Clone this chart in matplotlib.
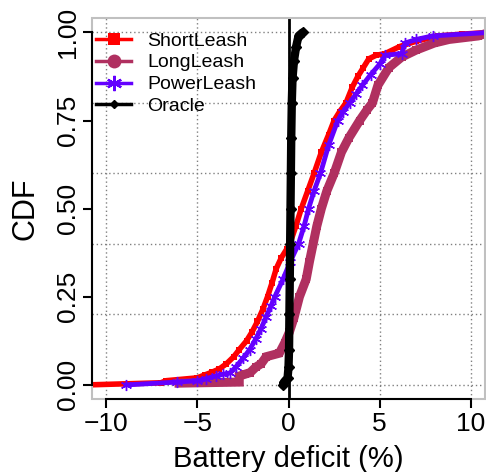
import matplotlib
matplotlib.use("Agg")
import matplotlib.pyplot as plt
from matplotlib.patches import Rectangle

plt.rcParams['font.family'] = ['Liberation Sans', 'DejaVu Sans']

# ---- data ----
short_x = [-11.0, -7.0, -6.7, -5.0, -4.6, -4.2, -3.8, -3.4, -3.0, -2.7, -2.3, -2.0, -1.7, -1.4,
           -1.15, -0.9, -0.67, -0.4, -0.1, 0.07, 0.4, 0.7, 1.05, 1.4, 1.8, 2.2, 2.5, 2.8, 3.15,
           3.5, 3.8, 4.1, 4.4, 4.8, 5.3, 6.1, 7.0, 8.2, 9.5, 11.0]
short_F = [0.0, 0.006, 0.012, 0.02, 0.028, 0.036, 0.045, 0.06, 0.08, 0.10, 0.125, 0.15, 0.18, 0.215,
           0.25, 0.29, 0.33, 0.36, 0.385, 0.40, 0.45, 0.50, 0.55, 0.60, 0.66, 0.71, 0.75, 0.775, 0.80,
           0.845, 0.875, 0.90, 0.925, 0.935, 0.94, 0.96, 0.975, 0.99, 0.995, 1.0]

long_x = [-6.0, -2.7, -2.7, -2.4, -2.1, -1.8, -1.5, -1.22, -0.5, -0.2, 0.05, 0.3, 0.6, 0.97, 1.15,
          1.35, 1.55, 1.8, 2.1, 2.5, 2.9, 3.3, 3.9, 4.3, 4.6, 4.9, 5.5, 6.2, 7.0, 8.0, 8.8, 10.4, 11.0]
long_F = [0.005, 0.008, 0.025, 0.03, 0.035, 0.05, 0.06, 0.08, 0.09, 0.12, 0.15, 0.19, 0.25, 0.30, 0.35,
          0.40, 0.45, 0.50, 0.55, 0.60, 0.66, 0.70, 0.75, 0.78, 0.80, 0.85, 0.90, 0.93, 0.95, 0.97, 0.98,
          0.99, 1.0]

power_x = [-8.9, -6.1, -5.0, -4.5, -4.0, -3.6, -3.2, -2.9, -2.5, -2.13, -1.8, -1.5, -1.22, -0.95,
           -0.75, -0.3, 0.1, 0.55, 0.85, 1.1, 1.4, 1.75, 2.2, 2.7, 3.0, 3.35, 3.7, 4.05, 4.5, 5.0,
           5.3, 6.2, 6.4, 7.0, 7.9, 11.0]
power_F = [0.0, 0.008, 0.012, 0.018, 0.025, 0.03, 0.034, 0.05, 0.075, 0.10, 0.13, 0.16, 0.194, 0.225,
           0.25, 0.30, 0.35, 0.40, 0.45, 0.50, 0.55, 0.60, 0.68, 0.75, 0.775, 0.80, 0.825, 0.85, 0.88,
           0.91, 0.935, 0.94, 0.97, 0.98, 0.99, 1.0]

oracle_x = [-0.3, -0.25, -0.05, 0.0, 0.03, 0.05, 0.07, 0.09, 0.11, 0.13, 0.15, 0.18, 0.22, 0.3, 0.42,
            0.55, 0.77]
oracle_F = [0.0, 0.008, 0.02, 0.05, 0.1, 0.2, 0.3, 0.4, 0.5, 0.6, 0.7, 0.8, 0.87, 0.92, 0.96, 0.99, 1.0]

x_ticks = [-10, -5, 0, 5, 10]
y_ticks = [0, 0.25, 0.5, 0.75, 1.0]
y_ticklabels = ['0.00', '0.25', '0.50', '0.75', '1.00']
grid_x = [-10, -5, 0, 5, 10]
grid_y = [0, 0.2, 0.4, 0.6, 0.8, 1.0]

RED = '#FF0000'
MAROON = '#B03060'
BLUE = '#6400FF'

W, H = 486, 472
fig = plt.figure(figsize=(W / 100, H / 100), dpi=100)
ax = fig.add_axes([92 / W, (H - 399) / H, (485 - 92) / W, (399 - 18.3) / H])
ax.set_xlim(-10.77, 10.77)
ax.set_ylim(-0.04, 1.04)

# grid
for gx in grid_x:
    ax.axvline(gx, color='#808080', lw=1.0, ls=(0, (1, 2)), zorder=0)
for gy in grid_y:
    ax.axhline(gy, color='#808080', lw=1.0, ls=(0, (1, 2)), zorder=0)

# series
ax.plot(short_x, short_F, color=RED, lw=4.0, marker='s', ms=5, mew=0, zorder=2)
ax.plot(long_x, long_F, color=MAROON, lw=6.5, marker='s', ms=6, mew=0, zorder=2,
        solid_joinstyle='miter')
ax.plot(power_x, power_F, color=BLUE, lw=3.5, marker=(6, 2, 0), ms=8, mew=1.0, mec=BLUE, zorder=3)
ax.axvline(0, color='black', lw=2.0, zorder=4)
ax.plot(oracle_x, oracle_F, color='black', lw=6.0, marker='D', ms=5, zorder=5,
        solid_capstyle='round')

# legend handles
h1, = ax.plot([], [], color=RED, lw=2.5, marker='s', ms=8, mew=0)
h2, = ax.plot([], [], color=MAROON, lw=2.5, marker='o', ms=10, mew=0)
h3, = ax.plot([], [], color=BLUE, lw=2.5, marker=(6, 2, 0), ms=11, mew=1.6, mec=BLUE)
h4, = ax.plot([], [], color='black', lw=2.5, marker='D', ms=4)
ax.legend([h1, h2, h3, h4], ['ShortLeash', 'LongLeash', 'PowerLeash', 'Oracle'],
          loc='upper left', bbox_to_anchor=(96 / W, (H - 32) / H),
          bbox_transform=fig.transFigure, frameon=False, fontsize=14,
          borderpad=0, borderaxespad=0, handlelength=1.8, handletextpad=0.85,
          labelspacing=0.22)

# frame
for s in ['top', 'right']:
    ax.spines[s].set_visible(False)
ax.add_patch(Rectangle((0, 0), 1, 1, transform=ax.transAxes, fill=False,
                       edgecolor='#C0C0C0', lw=1.5, zorder=6, clip_on=False))
ax.spines['left'].set_bounds(0, 1)
ax.spines['bottom'].set_bounds(-10, 10)
for s in ['left', 'bottom']:
    ax.spines[s].set_color('black')
    ax.spines[s].set_linewidth(1.5)
    ax.spines[s].set_zorder(7)

ax.set_xticks(x_ticks)
ax.set_yticks(y_ticks)
ax.set_yticklabels(y_ticklabels, rotation=90, va='center')
ax.tick_params(axis='both', direction='out', length=6.5, width=1.5, labelsize=19)
ax.tick_params(axis='x', pad=3)
ax.tick_params(axis='y', pad=2)

ax.set_xlabel('Battery deficit (%)', fontsize=21, labelpad=6)
ax.set_ylabel('CDF', fontsize=22, labelpad=11)

fig.savefig('out.png', dpi=100)
